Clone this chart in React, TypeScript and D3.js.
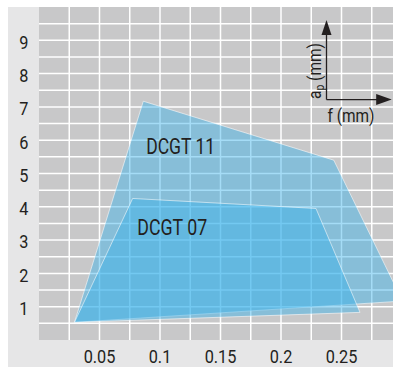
import React from "react";
import * as d3 from "d3";

const xTicks = [0.05, 0.1, 0.15, 0.2, 0.25];
const xTickLabels = ["0.05", "0.1", "0.15", "0.2", "0.25"];
const yTicks = [1, 2, 3, 4, 5, 6, 7, 8, 9];
const yTickLabels = ["1", "2", "3", "4", "5", "6", "7", "8", "9"];

const dcgt11F = [0.0293, 0.0862, 0.2436, 0.3004];
const dcgt11Ap = [0.53, 7.17, 5.4, 1.17];
const dcgt07F = [0.0293, 0.0774, 0.2289, 0.2653];
const dcgt07Ap = [0.53, 4.25, 3.95, 0.83];

const regionNames = ["DCGT 11", "DCGT 07"];
const regionLabelF = [0.0886, 0.0812];
const regionLabelAp = [5.6, 3.15];

const W = 393;
const H = 367;
const FONT = "Roboto, 'Open Sans', sans-serif";

export default function App() {
  const left = 39, top = 7, bottom = 340, right = 393;
  const x = d3.scaleLinear().domain([0, (right - left) / 1210]).range([left, right]);
  const y = d3.scaleLinear().domain([0, 10]).range([bottom, top]);

  const hGrid = d3.range(0.5, 10, 0.5);
  const vGrid = d3.range(1, 12).map((i) => i * 0.025);

  const line = d3
    .line<[number, number]>()
    .x((d) => x(d[0]))
    .y((d) => y(d[1]))
    .curve(d3.curveLinearClosed);

  const polys = [
    dcgt11F.map((f, i) => [f, dcgt11Ap[i]] as [number, number]),
    dcgt07F.map((f, i) => [f, dcgt07Ap[i]] as [number, number]),
  ];

  const fill = "rgba(55,178,234,0.45)";
  const textColor = "#231f20";

  // axis-direction indicator (in data units)
  const ax0 = x(0.2376);
  const ay0 = y(7.22);
  const ayTip = y(9.61);
  const axTip = x(0.2915);

  const labelLens = [69, 70];

  return (
    <svg
      width={W}
      height={H}
      style={{ position: "fixed", left: 0, top: 0, display: "block" }}
      fontFamily={FONT}
    >
      <defs>
        <clipPath id="plotClip">
          <rect x={left} y={top} width={right - left} height={bottom - top} />
        </clipPath>
      </defs>
      <rect x={0} y={0} width={W} height={H} fill="#ffffff" />
      <rect x={8} y={7} width={W - 8} height={H - 7} fill="#e6e6e7" />
      <rect x={left} y={top} width={right - left} height={bottom - top} fill="#c8c8c9" />
      <g clipPath="url(#plotClip)">
        {hGrid.map((v) => (
          <line key={"h" + v} x1={left} x2={right} y1={y(v)} y2={y(v)} stroke="#ffffff" strokeWidth={1.5} />
        ))}
        {vGrid.map((v) => (
          <line key={"v" + v} x1={x(v)} x2={x(v)} y1={top} y2={bottom} stroke="#ffffff" strokeWidth={1.5} />
        ))}
        {polys.map((p, i) => (
          <path
            key={"p" + i}
            d={line(p) || ""}
            fill={fill}
            stroke="rgba(255,255,255,0.55)"
            strokeWidth={1}
          />
        ))}
      </g>
      {regionNames.map((n, i) => (
        <text
          key={n}
          x={x(regionLabelF[i])}
          y={y(regionLabelAp[i])}
          fontSize={22}
          fill={textColor}
          textLength={labelLens[i]}
          lengthAdjust="spacingAndGlyphs"
        >
          {n}
        </text>
      ))}
      {yTicks.map((v, i) => (
        <text
          key={"yt" + v}
          transform={`translate(23.7,${y(v) + 8.3}) scale(0.88,1)`}
          textAnchor="middle"
          fontSize={18.5}
          fill={textColor}
        >
          {yTickLabels[i]}
        </text>
      ))}
      {xTicks.map((v, i) => (
        <text
          key={"xt" + v}
          transform={`translate(${x(v)},363) scale(0.88,1)`}
          textAnchor="middle"
          fontSize={18.5}
          fill={textColor}
        >
          {xTickLabels[i]}
        </text>
      ))}
      {/* axis-direction indicator */}
      <line x1={ax0} y1={ay0} x2={ax0} y2={ayTip + 14} stroke={textColor} strokeWidth={1.3} />
      <line x1={ax0} y1={ay0} x2={axTip - 14} y2={ay0} stroke={textColor} strokeWidth={1.3} />
      <path
        d={`M${ax0},${ayTip} L${ax0 - 5},${ayTip + 15} L${ax0 + 5},${ayTip + 15} Z`}
        fill={textColor}
      />
      <path
        d={`M${axTip},${ay0} L${axTip - 15.5},${ay0 - 5.5} L${axTip - 15.5},${ay0 + 5.5} Z`}
        fill={textColor}
      />
      <text
        x={327.5}
        y={121.5}
        fontSize={18}
        fill={textColor}
        textLength={47}
        lengthAdjust="spacingAndGlyphs"
      >
        f (mm)
      </text>
      <text
        transform={`translate(321,99) rotate(-90)`}
        fontSize={18}
        fill={textColor}
        textLength={56}
        lengthAdjust="spacingAndGlyphs"
      >
        a
        <tspan fontSize={12} dy={3}>
          p
        </tspan>
        <tspan dy={-3}> (mm)</tspan>
      </text>
    </svg>
  );
}
